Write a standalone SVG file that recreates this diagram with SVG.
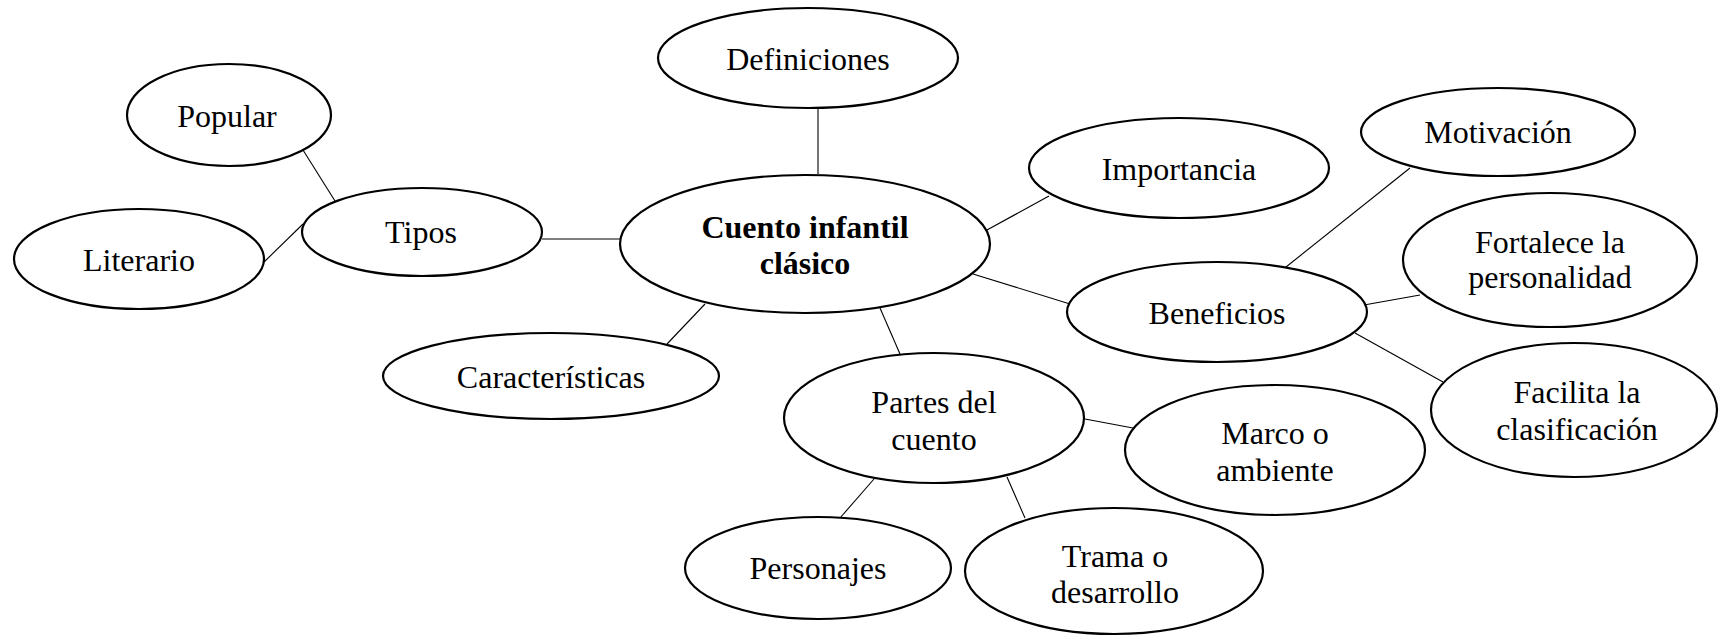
<svg xmlns="http://www.w3.org/2000/svg" width="1719" height="636" viewBox="0 0 1719 636">
<style>
.n ellipse{fill:#fff;stroke:#000;stroke-width:2.2}
.n text{font-family:"Liberation Serif","Times New Roman",serif;font-size:32px;text-anchor:middle;fill:#000}
.b text{font-weight:bold}
#connectors line{stroke:#000;stroke-width:1.1}
</style>
<rect width="1719" height="636" fill="#fff"/>
<g id="connectors">
<line x1="818" y1="108" x2="818" y2="174"/>
<line x1="542" y1="239" x2="620" y2="239"/>
<line x1="303" y1="150" x2="335" y2="201"/>
<line x1="263" y1="263" x2="303" y2="224"/>
<line x1="705" y1="304" x2="667" y2="344"/>
<line x1="987" y1="230" x2="1049" y2="196"/>
<line x1="973" y1="274" x2="1070" y2="304"/>
<line x1="1286" y1="267" x2="1410" y2="168"/>
<line x1="1364" y1="305" x2="1420" y2="295"/>
<line x1="1355" y1="333" x2="1443" y2="382"/>
<line x1="880" y1="308" x2="900" y2="354"/>
<line x1="1085" y1="419" x2="1133" y2="428"/>
<line x1="1007" y1="477" x2="1025" y2="518"/>
<line x1="874" y1="479" x2="840" y2="518"/>
</g>
<g id="definiciones" class="n"><ellipse cx="808" cy="58" rx="150" ry="50"/><text x="808" y="70">Definiciones</text></g>
<g id="popular" class="n"><ellipse cx="229" cy="115" rx="102" ry="51"/><text x="227" y="127">Popular</text></g>
<g id="literario" class="n"><ellipse cx="139" cy="259" rx="125" ry="50"/><text x="139" y="271">Literario</text></g>
<g id="tipos" class="n"><ellipse cx="422" cy="232" rx="120" ry="44"/><text x="421" y="243">Tipos</text></g>
<g id="cuento" class="n b"><ellipse cx="805" cy="244" rx="185" ry="69"/><text x="805" y="238">Cuento infantil</text><text x="805" y="274">clásico</text></g>
<g id="importancia" class="n"><ellipse cx="1179" cy="168" rx="150" ry="50"/><text x="1179" y="180">Importancia</text></g>
<g id="motivacion" class="n"><ellipse cx="1498" cy="132" rx="137" ry="44"/><text x="1498" y="143">Motivación</text></g>
<g id="fortalece" class="n"><ellipse cx="1550" cy="260" rx="147" ry="67"/><text x="1550" y="253">Fortalece la</text><text x="1550" y="288">personalidad</text></g>
<g id="beneficios" class="n"><ellipse cx="1217" cy="312" rx="150" ry="50"/><text x="1217" y="324">Beneficios</text></g>
<g id="facilita" class="n"><ellipse cx="1574" cy="410" rx="143" ry="67"/><text x="1577" y="403">Facilita la</text><text x="1577" y="440">clasificación</text></g>
<g id="caracteristicas" class="n"><ellipse cx="551" cy="376" rx="168" ry="43"/><text x="551" y="388">Características</text></g>
<g id="partes" class="n"><ellipse cx="934" cy="418" rx="150" ry="65"/><text x="934" y="413">Partes del</text><text x="934" y="450">cuento</text></g>
<g id="marco" class="n"><ellipse cx="1275" cy="450" rx="150" ry="65"/><text x="1275" y="444">Marco o</text><text x="1275" y="481">ambiente</text></g>
<g id="personajes" class="n"><ellipse cx="818" cy="568" rx="133" ry="51"/><text x="818" y="579">Personajes</text></g>
<g id="trama" class="n"><ellipse cx="1114" cy="571" rx="149" ry="63"/><text x="1115" y="567">Trama o</text><text x="1115" y="603">desarrollo</text></g>
</svg>
